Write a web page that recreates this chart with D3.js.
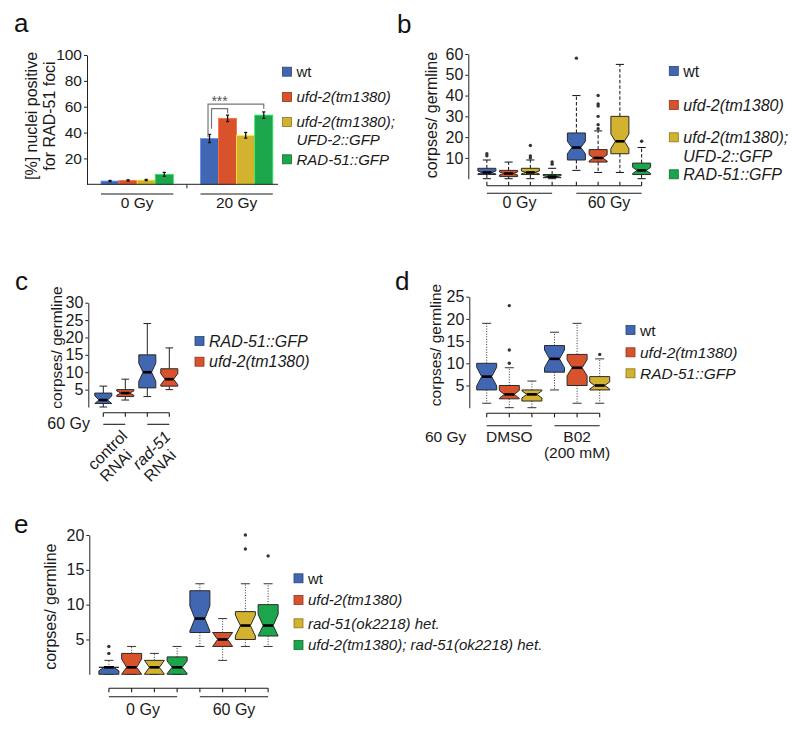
<!DOCTYPE html>
<html><head><meta charset="utf-8">
<script src="https://cdn.jsdelivr.net/npm/d3@7"></script>
<style>body{margin:0;background:#fff} svg{display:block}</style>
</head><body><svg id="chart" width="800" height="732"></svg>
<script>
// ================= DATA =================
// Panel a: % nuclei positive for RAD-51 foci (bar chart)
const aGroups = ["0 Gy", "20 Gy"];
const aSeries = ["wt", "ufd-2(tm1380)", "ufd-2(tm1380);|UFD-2::GFP", "RAD-51::GFP"];
const aMeans  = [[2.5, 3, 3.3, 7.7], [35.4, 51, 37.9, 53.5]];
const aErrors = [[0.5, 0.5, 0.5, 1.5], [3.2, 2.5, 2.2, 2.5]];
const aTicks  = [20, 40, 60, 80, 100];
const aSignif = "***";

// Box stats: [min, q1, median, q3, max, notch half-length]
const bGroups = ["0 Gy", "60 Gy"];
const bSeries = ["wt", "ufd-2(tm1380)", "ufd-2(tm1380);|UFD-2::GFP", "RAD-51::GFP"];
const bStats = [
  [0, 2, 3, 5, 9, 0.7], [0, 1, 2.5, 4, 8, 0.7], [0, 2, 3, 5, 9, 0.7], [0, 0.5, 1, 2, 5, 0.5],
  [4, 9, 15, 22, 40, 3], [3, 8, 10, 14, 23, 1.5], [3, 12, 18, 30, 55, 3.5], [0, 2, 4, 7.5, 15, 1.5]
];
const bOutliers = [[11, 12], [], [10, 11, 16], [7, 8], [58], [24, 26, 30, 35, 36, 40], [], [18]];
const bTicks = [10, 20, 30, 40, 50, 60];

const cGroups = ["control|RNAi", "rad-51|RNAi"];
const cSeries = ["RAD-51::GFP", "ufd-2(tm1380)"];
const cStats = [
  [0, 1, 2, 4, 6, 1.2], [2, 3, 4, 5, 8, 0.6],
  [3, 5.5, 10, 15, 24, 2.6], [5, 6, 8, 11, 17, 1.6]
];
const cOutliers = [[], [], [], []];
const cTicks = [5, 10, 15, 20, 25, 30];
const cDose = "60 Gy";

const dGroups = ["DMSO", "B02|(200 mM)"];
const dSeries = ["wt", "ufd-2(tm1380)", "RAD-51::GFP"];
const dStats = [
  [1, 4, 7, 10, 19, 2.1], [0, 2, 3, 5, 9, 0.9], [0, 1.5, 3, 4, 6, 0.8],
  [4, 8, 11, 14, 17, 2], [1, 5, 9, 12, 19, 1.8], [1, 4, 5, 7, 11, 0.8]
];
const dOutliers = [[], [10, 13, 23], [], [], [], [12]];
const dTicks = [5, 10, 15, 20, 25];
const dDose = "60 Gy";

const eGroups = ["0 Gy", "60 Gy"];
const eSeries = ["wt", "ufd-2(tm1380)", "rad-51(ok2218) het.", "ufd-2(tm1380); rad-51(ok2218) het."];
const eStats = [
  [0, 0, 1, 1, 2, 0.5], [0, 0, 1, 3, 4, 1.2], [0, 0, 1, 2, 3, 1], [0, 0, 1, 2.5, 4, 0.9],
  [4, 6, 8, 12, 13, 1.8], [2, 4, 5, 6, 8, 1], [4, 5, 7, 9, 13, 1.5], [4, 5.5, 7, 10, 13, 1.6]
];
const eOutliers = [[3, 4], [], [], [], [], [], [18, 20], [17]];
const eTicks = [5, 10, 15, 20];

// ================= DRAWING =================
const svg = d3.select("#chart");
const FONT = "'Liberation Sans', Arial, Helvetica, sans-serif";
const palette = ["#4267b2", "#d8532b", "#d2b22e", "#1ca64c"];
const INK = "#1a1a1a";

function yAxis(g, y, ticks, x, fs) {
  const ax = g.append("g").attr("transform", `translate(${x},0)`)
    .call(d3.axisLeft(y).tickValues(ticks).tickSize(3).tickSizeOuter(0).tickPadding(2));
  ax.attr("font-family", FONT).attr("font-size", fs);
  ax.selectAll("text").attr("fill", INK);
  ax.selectAll("line,path").attr("stroke", "#222");
}

function yTitle(g, lines, x0, yc, fs, lh) {
  lines.forEach((t, i) => {
    g.append("text").attr("transform", `translate(${x0 + i * lh},${yc}) rotate(-90)`)
      .attr("text-anchor", "middle").attr("font-family", FONT).attr("font-size", fs)
      .attr("fill", INK).text(t);
  });
}

function legend(g, items, x, ys, fs, lh) {
  items.forEach((lab, i) => {
    g.append("rect").attr("x", x).attr("y", ys[i] - 4.5).attr("width", 9).attr("height", 9)
      .attr("fill", palette[i]).attr("stroke", d3.color(palette[i]).darker(1.2)).attr("stroke-width", 0.8);
    const t = g.append("text").attr("x", x + 14).attr("y", ys[i] + fs * 0.36)
      .attr("font-family", FONT).attr("font-size", fs).attr("fill", INK)
      .attr("font-style", lab === "wt" ? "normal" : "italic");
    lab.split("|").forEach((s, j) => t.append("tspan").attr("x", x + 14).attr("dy", j ? lh : 0).text(s));
  });
}

function letter(t, x, y) {
  svg.append("text").attr("x", x).attr("y", y).attr("font-family", FONT)
    .attr("font-size", 26).attr("fill", "#111").text(t);
}

function drawBox(g, cx, w, st, y, whisk, color) {
  const [mn, q1, md, q3, mx, nh] = st;
  const L = cx - w / 2, R = cx + w / 2, ind = w * 0.25, cap = w * 0.45;
  const nLo = Math.max(q1, md - nh), nHi = Math.min(q3, md + nh);
  [[q3, mx], [q1, mn]].forEach(([a, b]) => {
    g.append("line").attr("x1", cx).attr("x2", cx).attr("y1", y(a)).attr("y2", y(b))
      .attr("stroke", whisk.color).attr("stroke-width", 1).attr("stroke-dasharray", whisk.dash);
    g.append("line").attr("x1", cx - cap / 2).attr("x2", cx + cap / 2).attr("y1", y(b)).attr("y2", y(b))
      .attr("stroke", whisk.color).attr("stroke-width", 1);
  });
  const pts = [[L, q3], [L, nHi], [L + ind, md], [L, nLo], [L, q1], [R, q1], [R, nLo], [R - ind, md], [R, nHi], [R, q3]]
    .map(([px, v]) => [px, y(v)]);
  g.append("path").attr("d", d3.line()(pts) + "Z").attr("fill", color)
    .attr("stroke", "#2a2a2a").attr("stroke-width", 1).attr("stroke-linejoin", "round");
  g.append("line").attr("x1", L + ind).attr("x2", R - ind).attr("y1", y(md)).attr("y2", y(md))
    .attr("stroke", "#000").attr("stroke-width", 2.6);
}

function boxPanel(cfg) {
  const g = svg.append("g");
  const y = d3.scaleLinear().domain([0, cfg.yMax]).range(cfg.yRange);
  const x0 = d3.scaleBand().domain(cfg.groups).range(cfg.xRange).paddingInner(cfg.gap);
  const x1 = d3.scaleBand().domain(d3.range(cfg.series.length)).range([0, x0.bandwidth()]);
  const ns = cfg.series.length;
  const cx = (gi, si) => x0(cfg.groups[gi]) + x1(si) + x1.bandwidth() / 2;
  yAxis(g, y, cfg.ticks, cfg.axisX, cfg.tickFs);
  cfg.groups.forEach((grp, gi) => cfg.series.forEach((s, si) => {
    const k = gi * ns + si;
    drawBox(g, cx(gi, si), cfg.boxW, cfg.stats[k], y, cfg.whisker, palette[si]);
    (cfg.outliers[k] || []).forEach(v => g.append("circle").attr("cx", cx(gi, si)).attr("cy", y(v))
      .attr("r", 1.7).attr("fill", "#333"));
  }));
  // category bracket
  const first = cx(0, 0), last = cx(cfg.groups.length - 1, ns - 1);
  g.append("line").attr("x1", first).attr("x2", last).attr("y1", cfg.bracketY).attr("y2", cfg.bracketY)
    .attr("stroke", INK).attr("stroke-width", 1.1);
  cfg.groups.forEach((grp, gi) => cfg.series.forEach((s, si) => {
    g.append("line").attr("x1", cx(gi, si)).attr("x2", cx(gi, si))
      .attr("y1", cfg.bracketY).attr("y2", cfg.bracketY + cfg.tickDir * 4)
      .attr("stroke", INK).attr("stroke-width", 1.1);
  }));
  // group lines
  cfg.groups.forEach((grp, gi) => {
    g.append("line").attr("x1", cx(gi, 0)).attr("x2", cx(gi, ns - 1))
      .attr("y1", cfg.groupY).attr("y2", cfg.groupY).attr("stroke", INK).attr("stroke-width", 1.1);
  });
  return { g, y, cx, ns };
}

// ---------- Panel a ----------
(function () {
  const g = svg.append("g");
  const y = d3.scaleLinear().domain([0, 100]).range([184.3, 55]);
  const x0 = d3.scaleBand().domain(aGroups).range([101, 272.8]).paddingInner(0.273);
  const x1 = d3.scaleBand().domain(d3.range(aSeries.length)).range([0, x0.bandwidth()]);
  const cx = (gi, si) => x0(aGroups[gi]) + x1(si) + x1.bandwidth() / 2;
  yAxis(g, y, aTicks, 87, 15.5);
  aGroups.forEach((grp, gi) => aSeries.forEach((s, si) => {
    const v = aMeans[gi][si], e = aErrors[gi][si];
    g.append("rect").attr("x", x0(grp) + x1(si)).attr("y", y(v)).attr("width", x1.bandwidth())
      .attr("height", y(0) - y(v)).attr("fill", palette[si])
      .attr("stroke", d3.color(palette[si]).brighter(0.9)).attr("stroke-width", 0.8);
    const c = cx(gi, si);
    g.append("line").attr("x1", c).attr("x2", c).attr("y1", y(v - e)).attr("y2", y(v + e)).attr("stroke", "#111").attr("stroke-width", 1.3);
    [v - e, v + e].forEach(b => g.append("line").attr("x1", c - 1.6).attr("x2", c + 1.6).attr("y1", y(b)).attr("y2", y(b)).attr("stroke", "#111").attr("stroke-width", 1.2));
  }));
  // x axis baseline with a separator tick
  g.append("line").attr("x1", 87).attr("x2", 278).attr("y1", y(0)).attr("y2", y(0)).attr("stroke", "#222");
  const mid = (x0(aGroups[0]) + x0.bandwidth() + x0(aGroups[1])) / 2;
  g.append("line").attr("x1", mid).attr("x2", mid).attr("y1", y(0)).attr("y2", y(0) + 4).attr("stroke", "#222");
  aGroups.forEach(grp => {
    g.append("line").attr("x1", x0(grp)).attr("x2", x0(grp) + x0.bandwidth()).attr("y1", 194).attr("y2", 194)
      .attr("stroke", INK).attr("stroke-width", 1.2);
    g.append("text").attr("x", x0(grp) + x0.bandwidth() / 2).attr("y", 208).attr("text-anchor", "middle")
      .attr("font-family", FONT).attr("font-size", 15.5).attr("fill", INK).text(grp);
  });
  // significance brackets
  const bc = "#777";
  const o1 = cx(1, 0) - 1.5, o2 = cx(1, 3), i1 = cx(1, 0) + 2, i2 = cx(1, 1);
  g.append("path").attr("d", d3.line()([[o1, y(36.5)], [o1, y(62)], [o2, y(62)], [o2, y(58.5)]]))
    .attr("fill", "none").attr("stroke", bc).attr("stroke-width", 1.2);
  g.append("path").attr("d", d3.line()([[i1, y(43)], [i1, y(58.5)], [i2, y(58.5)], [i2, y(55)]]))
    .attr("fill", "none").attr("stroke", bc).attr("stroke-width", 1.2);
  g.append("text").attr("x", (i1 + i2) / 2).attr("y", y(62) + 1.5).attr("text-anchor", "middle")
    .attr("font-family", FONT).attr("font-size", 14).attr("fill", "#555").text(aSignif);
  yTitle(g, ["[%] nuclei positive", "for RAD-51 foci"], 37, 116, 16, 18);
  legend(g, aSeries, 282.5, [71.7, 97, 122, 159.3], 15, 18);
  letter("a", 14, 32);
})();

// ---------- Panel b ----------
(function () {
  const p = boxPanel({
    groups: bGroups, series: bSeries, stats: bStats, outliers: bOutliers, ticks: bTicks,
    yMax: 60, yRange: [178.7, 54], axisX: 468.3, tickFs: 16,
    xRange: [476, 652.5], gap: 0.028, boxW: 18,
    whisker: { dash: "3.5,2", color: "#111" }, bracketY: 185.7, tickDir: -1, groupY: 193.3
  });
  bGroups.forEach((grp, gi) => p.g.append("text").attr("x", (p.cx(gi, 0) + p.cx(gi, p.ns - 1)) / 2).attr("y", 208)
    .attr("text-anchor", "middle").attr("font-family", FONT).attr("font-size", 16).attr("fill", INK).text(grp));
  yTitle(p.g, ["corpses/ germline"], 437, 115, 16, 0);
  legend(p.g, bSeries, 669.3, [71, 105, 137.3, 174.3], 16, 19.4);
  letter("b", 397, 33);
})();

// ---------- Panel c ----------
(function () {
  const p = boxPanel({
    groups: cGroups, series: cSeries, stats: cStats, outliers: cOutliers, ticks: cTicks,
    yMax: 30, yRange: [407, 302.7], axisX: 88.3, tickFs: 16,
    xRange: [92.3, 180.3], gap: 0, boxW: 17,
    whisker: { dash: null, color: "#222" }, bracketY: 412.7, tickDir: 1, groupY: 424.3
  });
  p.g.append("text").attr("x", 90).attr("y", 428.5).attr("text-anchor", "end")
    .attr("font-family", FONT).attr("font-size", 16).attr("fill", INK).text(cDose);
  cGroups.forEach((grp, gi) => {
    const c = (p.cx(gi, 0) + p.cx(gi, p.ns - 1)) / 2;
    const t = p.g.append("text").attr("transform", `translate(${c - 3},${454}) rotate(-45)`)
      .attr("text-anchor", "middle").attr("font-family", FONT).attr("font-size", 16).attr("fill", INK);
    grp.split("|").forEach((s, j) => t.append("tspan").attr("x", j ? -5 : 0).attr("dy", j ? 17 : 0)
      .attr("font-style", s.startsWith("rad") ? "italic" : "normal").text(s));
  });
  yTitle(p.g, ["corpses/ germline"], 62, 347.5, 15.5, 0);
  legend(p.g, cSeries, 195, [341, 361.7], 16, 18);
  letter("c", 15, 290);
})();

// ---------- Panel d ----------
(function () {
  const p = boxPanel({
    groups: dGroups, series: dSeries, stats: dStats, outliers: dOutliers, ticks: dTicks,
    yMax: 25, yRange: [407.7, 296.7], axisX: 469.3, tickFs: 16,
    xRange: [475.4, 611], gap: 0, boxW: 20,
    whisker: { dash: "1,1.6", color: "#333" }, bracketY: 413.3, tickDir: 1, groupY: 425.7
  });
  p.g.append("text").attr("x", 425).attr("y", 442).attr("font-family", FONT).attr("font-size", 15.5)
    .attr("fill", INK).text(dDose);
  dGroups.forEach((grp, gi) => {
    const c = (p.cx(gi, 0) + p.cx(gi, p.ns - 1)) / 2;
    const t = p.g.append("text").attr("x", c).attr("y", 442).attr("text-anchor", "middle")
      .attr("font-family", FONT).attr("font-size", 15.5).attr("fill", INK);
    grp.split("|").forEach((s, j) => t.append("tspan").attr("x", c).attr("dy", j ? 15.5 : 0).text(s));
  });
  yTitle(p.g, ["corpses/ germline"], 441, 345, 15.5, 0);
  legend(p.g, dSeries, 626, [330, 352.3, 373.3], 15.5, 18);
  letter("d", 395, 290);
})();

// ---------- Panel e ----------
(function () {
  const p = boxPanel({
    groups: eGroups, series: eSeries, stats: eStats, outliers: eOutliers, ticks: eTicks,
    yMax: 20, yRange: [674.3, 535], axisX: 89.3, tickFs: 16,
    xRange: [97.5, 279.5], gap: 0, boxW: 20,
    whisker: { dash: "1,1.6", color: "#333" }, bracketY: 688.3, tickDir: 1, groupY: 696.7
  });
  eGroups.forEach((grp, gi) => p.g.append("text").attr("x", (p.cx(gi, 0) + p.cx(gi, p.ns - 1)) / 2).attr("y", 715)
    .attr("text-anchor", "middle").attr("font-family", FONT).attr("font-size", 16).attr("fill", INK).text(grp));
  yTitle(p.g, ["corpses/ germline"], 56, 606.7, 16, 0);
  legend(p.g, eSeries, 294, [578.3, 600, 623.3, 645], 15, 18);
  letter("e", 14, 533);
})();
</script>
</body></html>
